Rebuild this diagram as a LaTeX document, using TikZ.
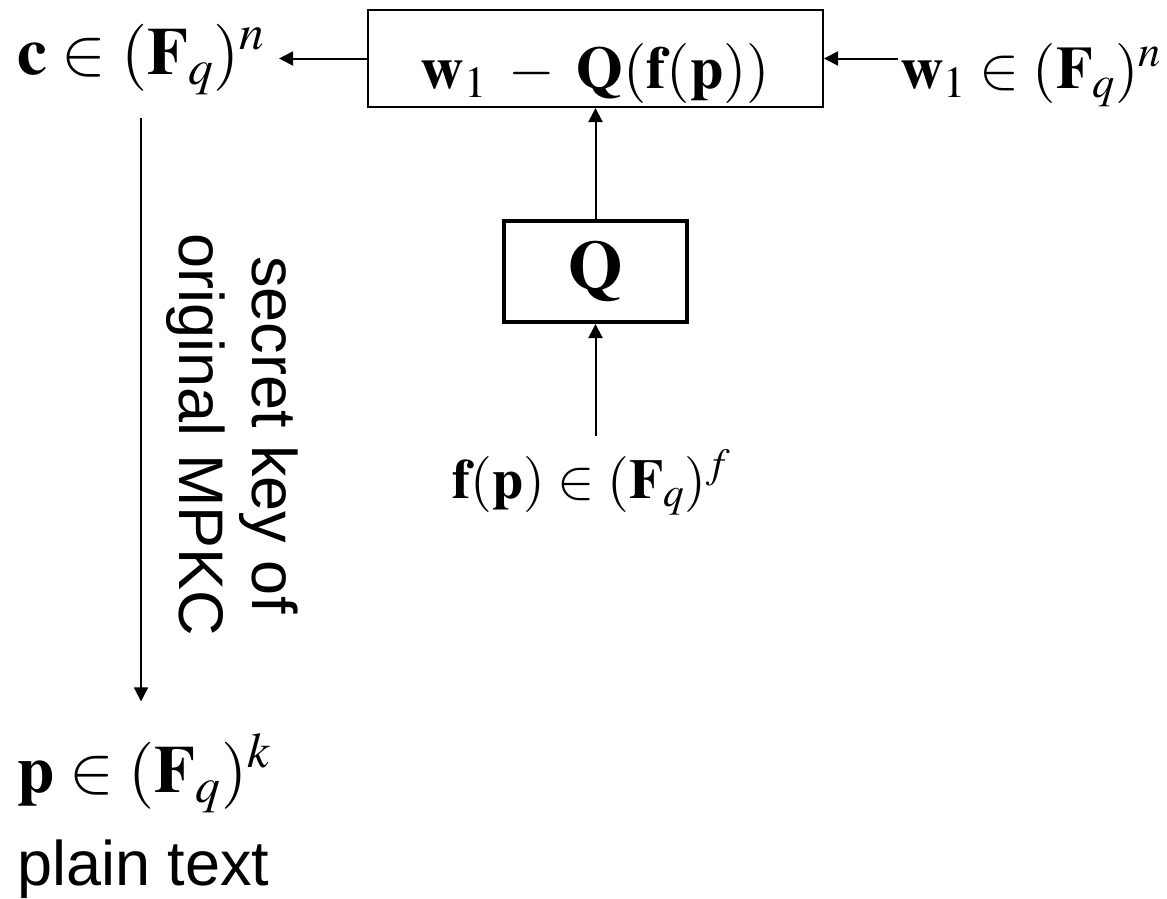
\documentclass[tikz,border=0pt]{standalone}
\usepackage{mathptmx}
\usepackage[no-math]{fontspec}
\setmainfont{Liberation Sans}
\usepackage{tikz}
\usetikzlibrary{positioning, arrows.meta}

\begin{document}
\begin{tikzpicture}[x=1pt, y=-1pt,
            box/.style={draw, line width=2pt, inner sep=0pt, font=\fontsize{60}{64}\selectfont},
            qbox/.style={draw, line width=4pt, inner sep=0pt, minimum width=183pt, minimum height=101pt, font=\fontsize{70}{74}\selectfont},
            vec/.style={anchor=base west, font=\fontsize{67}{70}\selectfont},
            plain/.style={anchor=base west, inner sep=0pt, font=\fontsize{63}{73}\selectfont},
            arrow/.style={line width=2pt, -{Triangle[length=14pt, width=14pt]}}
        ]
            \useasboundingbox (0,0) rectangle (1167,898);

            % Top part
            \node[box, minimum width=455pt, minimum height=97pt, text height=66pt, text depth=7pt] at (595.5,58.5) (sub) {$\mathbf{w}_1 \;-\; \mathbf{Q}(\mathbf{f}(\mathbf{p}))$};
            \node[vec, inner xsep=14pt, inner ysep=23pt] at (3,74) (cipher) {$\mathbf{c}\in(\mathbf{F}_q)^n$};
            \node[vec, inner sep=2pt, font=\fontsize{60}{64}\selectfont] at (898,88) (wone) {$\mathbf{w}_1\in(\mathbf{F}_q)^n$};

            \draw[arrow] (sub.west) -- (sub.west -| cipher.east);
            \draw[arrow] (wone.west |- sub.east) -- (sub.east);

            % Middle part
            \node[qbox] at (595.5,271.5) (quad) {$\mathbf{Q}$};
            \node[vec, inner sep=14pt, font=\fontsize{56}{60}\selectfont] at (438,498) (fp) {$\mathbf{f}(\mathbf{p})\in(\mathbf{F}_q)^f$};

            \draw[arrow] (quad.north) -- (quad.north |- sub.south);
            \draw[arrow] (fp.north -| quad.south) -- (quad.south);

            % Left part
            \node[vec, inner xsep=20pt, inner ysep=32pt] at (-3,792) (plainvec) {$\mathbf{p}\in(\mathbf{F}_q)^k$};
            \node[plain] at (17,885) (plaintxt) {plain text};

            \draw[arrow] (cipher.south) -- (cipher.south |- plainvec.north);
            \node[plain, anchor=center, align=center, rotate=-90] at (232,435) (key) {secret key of\\original MPKC};

        \end{tikzpicture}
\end{document}
